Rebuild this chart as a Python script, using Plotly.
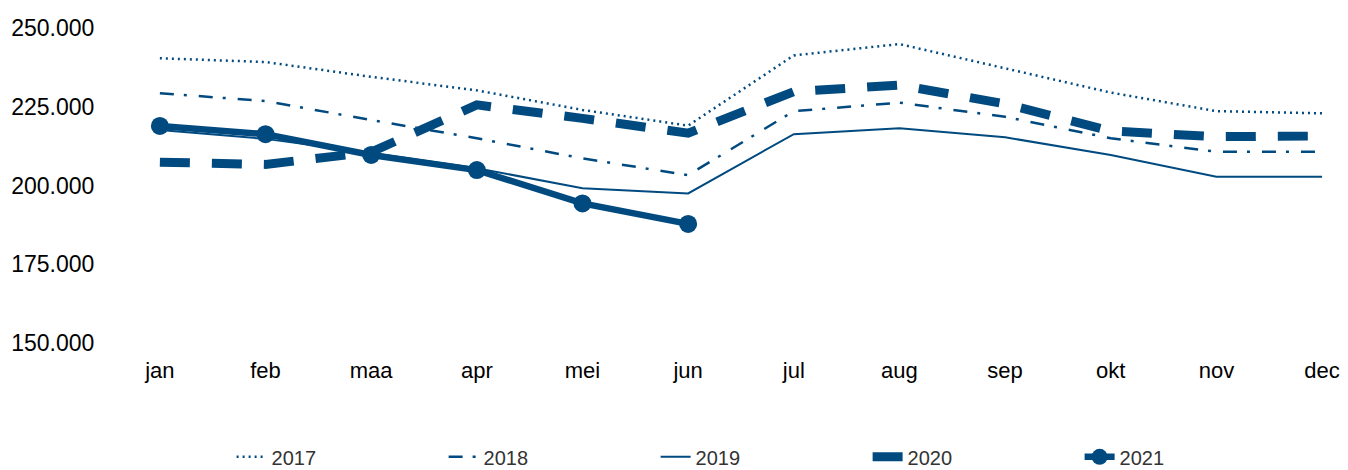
import plotly.graph_objects as go

months = ["jan", "feb", "maa", "apr", "mei", "jun", "jul", "aug", "sep", "okt", "nov", "dec"]
v2017 = [240400, 239200, 234500, 230200, 224000, 219000, 241300, 244900, 237200, 229500, 223600, 222900]
v2018 = [229300, 226800, 220800, 215000, 208600, 203300, 223600, 226300, 221800, 215000, 210700, 210700]
v2019 = [217600, 214800, 210300, 205500, 199100, 197500, 216300, 218200, 215300, 209700, 202800, 202800]
v2020 = [207400, 206700, 210600, 225600, 221300, 216600, 229800, 231900, 225900, 217300, 215500, 215700]
v2021 = [218900, 216300, 209700, 204900, 194300, 187800]
y_ticks = [150000, 175000, 200000, 225000, 250000]

C = "#004a80"

fig = go.Figure()
fig.add_trace(go.Scatter(x=months, y=v2017, name="2017", mode="lines",
                         line=dict(color=C, width=2.5, dash="2px,4px")))
fig.add_trace(go.Scatter(x=months, y=v2018, name="2018", mode="lines",
                         line=dict(color=C, width=2.5, dash="14px,10px,3px,12px")))
fig.add_trace(go.Scatter(x=months, y=v2019, name="2019", mode="lines",
                         line=dict(color=C, width=2)))
fig.add_trace(go.Scatter(x=months, y=v2020, name="2020", mode="lines",
                         line=dict(color=C, width=9, dash="30px,22px")))
fig.add_trace(go.Scatter(x=months[:len(v2021)], y=v2021, name="2021", mode="lines+markers",
                         line=dict(color=C, width=6.5), marker=dict(color=C, size=18)))

fig.update_layout(
    width=1348, height=470,
    margin=dict(l=125, r=8, t=28, b=127),
    paper_bgcolor="white", plot_bgcolor="white",
    separators=",.",
    font=dict(family="Liberation Sans, Arial, sans-serif", color="#000000"),
    showlegend=True,
    legend=dict(orientation="h", xref="container", yref="container",
                x=0.565, xanchor="center", y=0.028, yanchor="middle",
                font=dict(size=20, color="#333333"), entrywidth=167,
                traceorder="normal"),
)
fig.update_xaxes(type="category", range=[-0.33, 11.113], showgrid=False, zeroline=False,
                 showline=False, ticks="outside", ticklen=8, tickcolor="rgba(0,0,0,0)",
                 tickfont=dict(size=22))
fig.update_yaxes(range=[150000, 250000], tickvals=y_ticks, tickformat=",d", showgrid=False,
                 zeroline=False, showline=False, ticks="outside", ticklen=25,
                 tickcolor="rgba(0,0,0,0)", tickfont=dict(size=23))

fig.write_html("out.html", config={"displayModeBar": False},
               post_script="document.body.style.margin='0';")
